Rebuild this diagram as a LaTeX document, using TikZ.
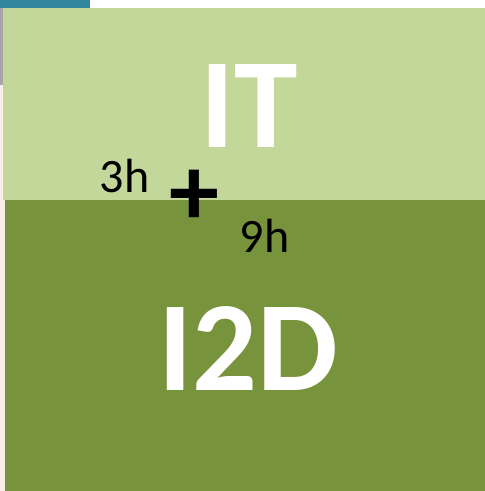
\documentclass[tikz,border=0pt]{standalone}
\usepackage{fontspec}
\setmainfont{Carlito}
\usepackage{tikz}
\usetikzlibrary{positioning}
\definecolor{LightOlive}{HTML}{C4D79B}
\definecolor{DarkOlive}{HTML}{77933C}
\definecolor{TealBar}{HTML}{31859C}
\definecolor{PaleEdge}{HTML}{FBEEE6}
\definecolor{GreyEdge}{HTML}{A6A6A6}
\tikzstyle{bigtitle} = [text=white, font=\fontsize{128}{128}\selectfont\bfseries,
  inner sep=0pt, anchor=base]
\tikzstyle{hours} = [text=black, font=\fontsize{48}{48}\selectfont,
  inner sep=0pt, anchor=base]

\begin{document}
\begin{tikzpicture}[x=1pt, y=-1pt]

  \useasboundingbox (0,0) rectangle (485,491);

  % edges of the slide
  \fill[white] (0,0) rectangle (485,491);
  \fill[PaleEdge] (0,85) rectangle (6,491);
  \fill[GreyEdge] (0,8) rectangle (4,85);
  \fill[TealBar] (0,0) rectangle (90,8);

  % two blocks
  \fill[LightOlive] (3,8) rectangle (485,200);
  \fill[DarkOlive] (5,200) rectangle (485,491);

  % labels
  \node[bigtitle] (it) at (249,147) {IT};
  \node[bigtitle] (itod) at (248.5,390) {I2D};
  \node[hours] (three) at (124.5,192) {3h};
  \node[hours] (nine) at (264.5,252) {9h};
  \node[text=black, font=\fontsize{100}{100}\selectfont\bfseries, inner sep=0pt]
    (plus) at (194,198) {+};

\end{tikzpicture}
\end{document}
